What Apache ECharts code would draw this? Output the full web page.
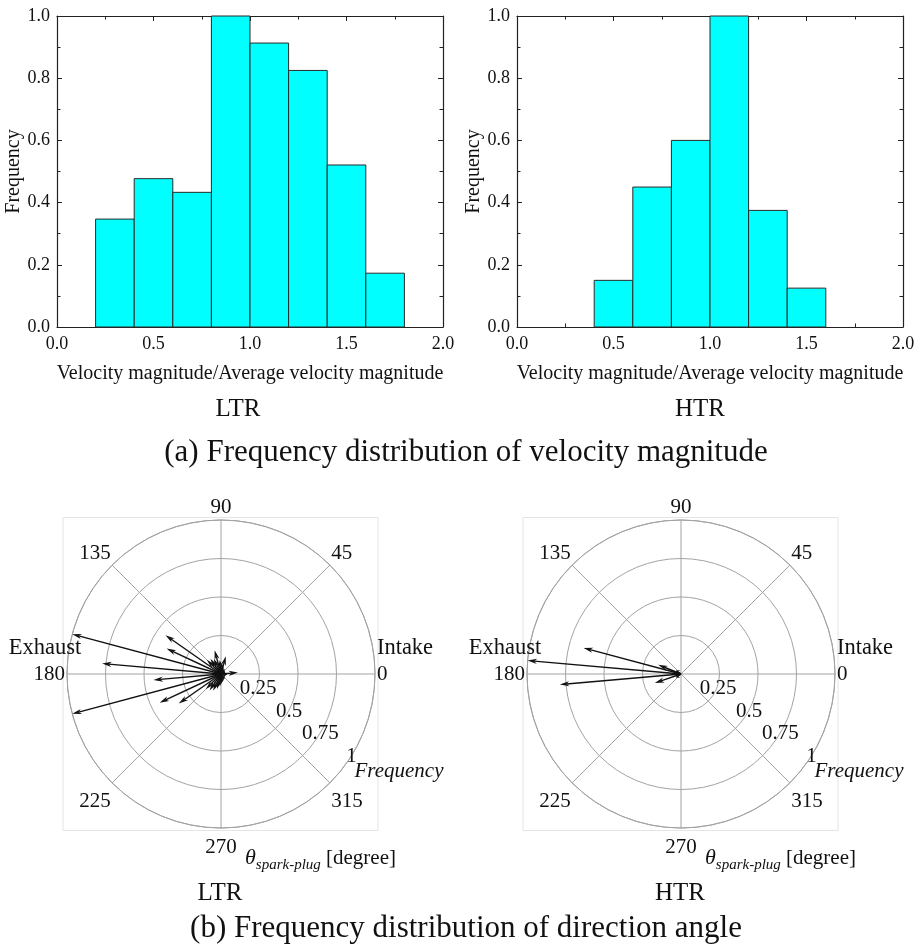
<!DOCTYPE html>
<html>
<head>
<meta charset="utf-8">
<script src="https://cdn.jsdelivr.net/npm/echarts@6/dist/echarts.min.js"></script>
<style>
  html, body { margin: 0; padding: 0; background: #fff; }
  #chart { width: 921px; height: 952px; }
</style>
</head>
<body>
<div id="chart"></div>
<script>
// ---- velocity magnitude histograms (bin start, normalised frequency) ----
const binWidth = 0.2;
const ltrBinStart = [0.2, 0.4, 0.6, 0.8, 1.0, 1.2, 1.4, 1.6];
const ltrFreq     = [0.347, 0.477, 0.433, 1.0, 0.913, 0.825, 0.521, 0.173];
const htrBinStart = [0.4, 0.6, 0.8, 1.0, 1.2, 1.4];
const htrFreq     = [0.15, 0.45, 0.6, 1.0, 0.375, 0.125];

// ---- direction angle distributions (degrees, normalised frequency) ----
const ltrAngle  = [5, 15, 35, 55, 75, 85, 95, 105, 115, 125, 135, 145, 155, 165, 175, 185, 195, 205, 215, 225, 235, 245, 255, 265, 275, 285, 305, 335, 355];
const ltrLength = [0.11, 0.03, 0.03, 0.04, 0.12, 0.07, 0.09, 0.16, 0.11, 0.12, 0.13, 0.44, 0.39, 1.0, 0.775, 0.44, 1.0, 0.44, 0.335, 0.14, 0.13, 0.12, 0.10, 0.08, 0.06, 0.05, 0.04, 0.03, 0.04];
const htrAngle  = [145, 158, 165, 175, 185, 199, 215];
const htrLength = [0.04, 0.16, 0.655, 1.0, 0.79, 0.18, 0.04];

const SERIF = '"Liberation Serif", "Times New Roman", serif';
const INK = '#111';
const GRID_GREY = '#a3a3a3';

const toPairs = (a, b) => a.map((v, i) => [v, b[i]]);
const histData = (starts, freq) => starts.map((s, i) => [s, s + binWidth, freq[i]]);

function barItem(params, api) {
  const p0 = api.coord([api.value(0), 0]);
  const p1 = api.coord([api.value(1), api.value(2)]);
  return {
    type: 'rect',
    shape: { x: p0[0], y: p1[1], width: p1[0] - p0[0], height: p0[1] - p1[1] },
    style: { fill: '#00ffff', stroke: '#2a2a2a', lineWidth: 1 }
  };
}

function arrowItem(params, api) {
  const r = api.value(0), a = api.value(1);
  const o = api.coord([0, a]);
  const t = api.coord([r, a]);
  const dx = t[0] - o[0], dy = t[1] - o[1];
  const len = Math.hypot(dx, dy) || 1;
  const ux = dx / len, uy = dy / len;
  const hl = Math.min(9.5, len * 0.55), hw = 2.6;
  const bx = t[0] - ux * hl, by = t[1] - uy * hl;
  const nx = t[0] - ux * hl * 0.7, ny = t[1] - uy * hl * 0.7;
  return {
    type: 'group',
    children: [
      { type: 'line', shape: { x1: o[0], y1: o[1], x2: nx, y2: ny },
        style: { stroke: INK, lineWidth: 1.4 } },
      { type: 'polygon',
        shape: { points: [[t[0], t[1]], [bx - uy * hw, by + ux * hw], [nx, ny], [bx + uy * hw, by - ux * hw]] },
        style: { fill: INK } }
    ]
  };
}

const tickFont = { fontFamily: SERIF, fontSize: 18, color: INK };

function histAxes(gridIndex) {
  const line = { show: true, onZero: false, lineStyle: { color: '#222', width: 1.2 } };
  const tick = { show: true, inside: true, length: 5, lineStyle: { color: '#222' } };
  const minor = { show: true, splitNumber: 2, length: 3.5, lineStyle: { color: '#222' } };
  const xBase = { type: 'value', gridIndex, min: 0, max: 2, interval: 0.5,
    axisLine: line, axisTick: tick, minorTick: minor, splitLine: { show: false } };
  const yBase = { type: 'value', gridIndex, min: 0, max: 1, interval: 0.2,
    axisLine: line, axisTick: tick, minorTick: minor, splitLine: { show: false } };
  return {
    x: [
      Object.assign({}, xBase, {
        position: 'bottom',
        name: 'Velocity magnitude/Average velocity magnitude',
        nameLocation: 'middle', nameGap: 37,
        nameTextStyle: { fontFamily: SERIF, fontSize: 20, color: INK },
        axisLabel: Object.assign({ margin: 8, formatter: v => v.toFixed(1) }, tickFont)
      }),
      Object.assign({}, xBase, { position: 'top', axisLabel: { show: false } })
    ],
    y: [
      Object.assign({}, yBase, {
        position: 'left',
        name: 'Frequency', nameLocation: 'middle', nameGap: 29,
        nameTextStyle: { fontFamily: SERIF, fontSize: 20, color: INK },
        axisLabel: Object.assign({ margin: 7, formatter: v => v.toFixed(1) }, tickFont)
      }),
      Object.assign({}, yBase, { position: 'right', axisLabel: { show: false } })
    ]
  };
}

const hA = histAxes(0), hB = histAxes(1);

const polarCenters = [[221, 674], [681, 674]];
const polarRadius = 154;

const polars = [], angleAxes = [], radiusAxes = [];
polarCenters.forEach((c, k) => {
  // main grid: rings and spokes
  polars.push({ center: c, radius: polarRadius });
  angleAxes.push({
    polarIndex: 2 * k, type: 'value', min: 0, max: 360, interval: 45,
    startAngle: 0, clockwise: false,
    axisLine: { show: true, lineStyle: { color: GRID_GREY, width: 1 } },
    axisTick: { show: false },
    splitLine: { show: true, lineStyle: { color: GRID_GREY, width: 1 } },
    axisLabel: { margin: 2, padding: [7, 0, 0, 0], fontFamily: SERIF, fontSize: 21, color: INK }
  });
  radiusAxes.push({
    polarIndex: 2 * k, type: 'value', min: 0, max: 1, interval: 0.25,
    axisLine: { show: false }, axisTick: { show: false }, axisLabel: { show: false },
    splitLine: { show: true, lineStyle: { color: GRID_GREY, width: 1 } }
  });
  // companion polar carrying the radius tick labels along the lower-right diagonal
  polars.push({ center: c, radius: polarRadius });
  angleAxes.push({
    polarIndex: 2 * k + 1, type: 'value', min: 0, max: 360, startAngle: -36,
    clockwise: false, show: false
  });
  radiusAxes.push({
    polarIndex: 2 * k + 1, type: 'value', min: 0, max: 1, interval: 0.25,
    axisLine: { show: false }, axisTick: { show: false }, splitLine: { show: false },
    name: 'Frequency', nameLocation: 'end', nameGap: 11, nameMoveOverlap: false,
    nameTextStyle: { fontFamily: SERIF, fontStyle: 'italic', fontSize: 21, color: INK,
      align: 'left', verticalAlign: 'middle', padding: [0, 0, 37, 0] },
    axisLabel: {
      show: true, margin: 10, fontFamily: SERIF, fontSize: 21, color: INK,
      align: 'center', verticalAlign: 'middle',
      formatter: v => v === 0 ? '' : String(v)
    }
  });
});

const textEl = (x, y, text, size, extra) => ({
  type: 'text', x, y, z: 10,
  style: Object.assign({ text, fontFamily: SERIF, fontSize: size, fill: INK, align: 'center', verticalAlign: 'middle' }, extra || {})
});

const thetaRich = {
  t: { fontFamily: SERIF, fontStyle: 'italic', fontSize: 22, fill: INK },
  s: { fontFamily: SERIF, fontStyle: 'italic', fontSize: 15, fill: INK, padding: [14, 0, 0, 0] },
  d: { fontFamily: SERIF, fontSize: 21, fill: INK }
};

const graphics = [
  { type: 'rect', shape: { x: 63, y: 517.5, width: 315, height: 313 }, z: -1,
    style: { fill: 'none', stroke: '#e4e4e4', lineWidth: 1 } },
  { type: 'rect', shape: { x: 523, y: 517.5, width: 315, height: 313 }, z: -1,
    style: { fill: 'none', stroke: '#e4e4e4', lineWidth: 1 } },
  textEl(238, 409, 'LTR', 25),
  textEl(700, 409, 'HTR', 25),
  textEl(466, 453, '(a) Frequency distribution of velocity magnitude', 31),
  textEl(45, 648, 'Exhaust', 22.5),
  textEl(405, 648, 'Intake', 22.5),
  textEl(505, 648, 'Exhaust', 22.5),
  textEl(865, 648, 'Intake', 22.5),
  { type: 'text', x: 245, y: 858, z: 10,
    style: { text: '{t|θ}{s|spark-plug}{d| [degree]}', rich: thetaRich, align: 'left', verticalAlign: 'middle' } },
  { type: 'text', x: 705, y: 858, z: 10,
    style: { text: '{t|θ}{s|spark-plug}{d| [degree]}', rich: thetaRich, align: 'left', verticalAlign: 'middle' } },
  textEl(220, 893, 'LTR', 25),
  textEl(680, 893, 'HTR', 25),
  textEl(466, 929, '(b) Frequency distribution of direction angle', 31)
];

const option = {
  backgroundColor: '#ffffff',
  animation: false,
  grid: [
    { left: 57, top: 16, width: 386, height: 311 },
    { left: 517, top: 16, width: 386, height: 311 }
  ],
  xAxis: hA.x.concat(hB.x),
  yAxis: hA.y.concat(hB.y),
  polar: polars,
  angleAxis: angleAxes,
  radiusAxis: radiusAxes,
  graphic: graphics,
  series: [
    { type: 'custom', name: 'LTR', xAxisIndex: 0, yAxisIndex: 0, renderItem: barItem,
      encode: { x: [0, 1], y: 2 }, data: histData(ltrBinStart, ltrFreq) },
    { type: 'custom', name: 'HTR', xAxisIndex: 2, yAxisIndex: 2, renderItem: barItem,
      encode: { x: [0, 1], y: 2 }, data: histData(htrBinStart, htrFreq) },
    { type: 'custom', name: 'LTR angle', coordinateSystem: 'polar', polarIndex: 0, z: 5,
      renderItem: arrowItem, data: toPairs(ltrLength, ltrAngle) },
    { type: 'custom', name: 'HTR angle', coordinateSystem: 'polar', polarIndex: 2, z: 5,
      renderItem: arrowItem, data: toPairs(htrLength, htrAngle) }
  ]
};

const chart = echarts.init(document.getElementById('chart'), null, { renderer: 'canvas' });
chart.setOption(option);
</script>
</body>
</html>
